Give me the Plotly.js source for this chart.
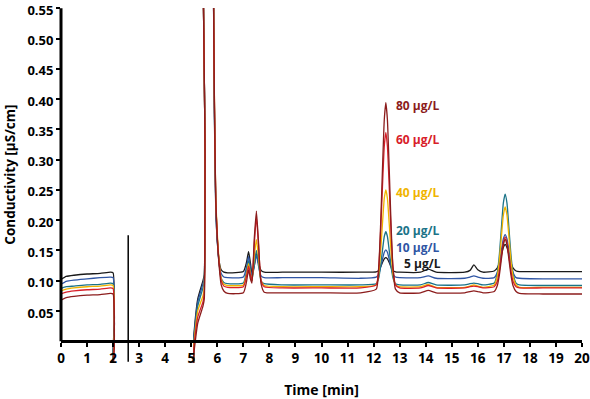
<!DOCTYPE html>
<html>
<head>
<meta charset="utf-8">
<script src="https://cdn.plot.ly/plotly-3.0.1.min.js"></script>
<style>html,body{margin:0;padding:0;background:#fff;}#chart{width:590px;height:399px;}</style>
</head>
<body>
<div id="chart"></div>
<script>
// Time axis (min), shared by all series
const time = [0, 0.2, 0.5, 1.0, 1.5, 1.9, 2.0, 2.05, 2.1,
  5.0, 5.1, 5.25, 5.45, 5.5, 5.53, 5.56, 5.82, 5.85,
  5.89, 5.94, 6.0, 6.08, 6.15, 6.25, 6.4,
  7.0, 7.12, 7.2, 7.27, 7.33, 7.42, 7.5, 7.58, 7.68, 7.8,
  8.5, 10, 11.5,
  12.1, 12.2, 12.27, 12.34, 12.41, 12.47, 12.53, 12.6, 12.67, 12.74, 12.84,
  13.0,
  13.8, 14.1, 14.4,
  15.5, 15.7, 15.85, 16.0, 16.2,
  16.63, 16.75, 16.83, 16.91, 16.98, 17.05, 17.12, 17.19, 17.27, 17.35, 17.47,
  17.6, 18.5, 20];

// Conductivity (µS/cm) per standard
const c5 = [0.102, 0.107, 0.109, 0.111, 0.112, 0.114, 0.113, 0.04, -0.1,
  -0.06, 0.01, 0.07, 0.100, 0.11, 0.30, 1.2, 1.2, 0.6,
  0.37, 0.22, 0.165, 0.13, 0.118, 0.114, 0.113,
  0.115, 0.13, 0.148, 0.13, 0.112, 0.125, 0.145, 0.13, 0.117, 0.114,
  0.114, 0.114, 0.114,
  0.1145, 0.117, 0.123, 0.130, 0.136, 0.138, 0.136, 0.130, 0.123, 0.117, 0.1145,
  0.114,
  0.114, 0.119, 0.114,
  0.114, 0.117, 0.126, 0.118, 0.114,
  0.116, 0.121, 0.130, 0.144, 0.155, 0.160, 0.155, 0.144, 0.130, 0.121, 0.116,
  0.115, 0.115, 0.115];
const c10 = [0.094, 0.099, 0.101, 0.103, 0.105, 0.106, 0.105, 0.03, -0.1,
  -0.06, 0.005, 0.065, 0.095, 0.105, 0.30, 1.2, 1.2, 0.6,
  0.38, 0.225, 0.165, 0.125, 0.112, 0.106, 0.105,
  0.106, 0.122, 0.140, 0.122, 0.105, 0.125, 0.142, 0.125, 0.108, 0.105,
  0.105, 0.105, 0.104,
  0.106, 0.111, 0.122, 0.135, 0.147, 0.151, 0.147, 0.135, 0.122, 0.111, 0.106,
  0.105,
  0.105, 0.108, 0.104,
  0.104, 0.106, 0.108, 0.106, 0.104,
  0.105, 0.114, 0.128, 0.151, 0.169, 0.176, 0.169, 0.151, 0.128, 0.114, 0.105,
  0.104, 0.103, 0.103];
const c20 = [0.087, 0.090, 0.091, 0.093, 0.094, 0.096, 0.095, 0.03, -0.1,
  -0.06, 0.0, 0.058, 0.088, 0.1, 0.30, 1.2, 1.2, 0.6,
  0.385, 0.23, 0.17, 0.125, 0.104, 0.097, 0.095,
  0.096, 0.115, 0.133, 0.115, 0.100, 0.128, 0.150, 0.13, 0.100, 0.095,
  0.093, 0.093, 0.093,
  0.095, 0.105, 0.125, 0.150, 0.173, 0.181, 0.173, 0.150, 0.125, 0.105, 0.095,
  0.093,
  0.093, 0.097, 0.093,
  0.093, 0.095, 0.096, 0.095, 0.093,
  0.096, 0.113, 0.144, 0.190, 0.228, 0.243, 0.228, 0.190, 0.144, 0.113, 0.096,
  0.093, 0.092, 0.092];
const c40 = [0.083, 0.086, 0.088, 0.090, 0.091, 0.093, 0.092, 0.02, -0.1,
  -0.06, -0.005, 0.05, 0.075, 0.09, 0.30, 1.2, 1.2, 0.6,
  0.40, 0.24, 0.178, 0.128, 0.103, 0.094, 0.092,
  0.093, 0.110, 0.128, 0.112, 0.100, 0.140, 0.168, 0.140, 0.100, 0.092,
  0.090, 0.090, 0.090,
  0.093, 0.112, 0.148, 0.194, 0.236, 0.250, 0.236, 0.194, 0.148, 0.112, 0.093,
  0.090,
  0.090, 0.094, 0.089,
  0.089, 0.091, 0.093, 0.091, 0.089,
  0.093, 0.108, 0.135, 0.175, 0.208, 0.222, 0.208, 0.175, 0.135, 0.108, 0.093,
  0.089, 0.089, 0.089];
const c60 = [0.078, 0.081, 0.083, 0.085, 0.086, 0.088, 0.087, 0.01, -0.1,
  -0.06, -0.01, 0.04, 0.065, 0.08, 0.30, 1.2, 1.2, 0.6,
  0.395, 0.235, 0.172, 0.125, 0.100, 0.091, 0.089,
  0.090, 0.107, 0.124, 0.110, 0.100, 0.160, 0.205, 0.160, 0.100, 0.090,
  0.088, 0.088, 0.088,
  0.093, 0.124, 0.181, 0.255, 0.322, 0.345, 0.322, 0.255, 0.181, 0.124, 0.093,
  0.088,
  0.088, 0.092, 0.088,
  0.088, 0.090, 0.091, 0.090, 0.088,
  0.090, 0.099, 0.117, 0.142, 0.163, 0.172, 0.163, 0.142, 0.117, 0.099, 0.090,
  0.088, 0.088, 0.088];
const c80 = [0.068, 0.072, 0.074, 0.076, 0.077, 0.079, 0.078, 0.0, -0.1,
  -0.06, -0.02, 0.03, 0.058, 0.07, 0.30, 1.2, 1.2, 0.6,
  0.395, 0.235, 0.170, 0.120, 0.093, 0.083, 0.079,
  0.080, 0.098, 0.118, 0.103, 0.096, 0.170, 0.215, 0.165, 0.095, 0.081,
  0.080, 0.080, 0.080,
  0.086, 0.124, 0.193, 0.284, 0.366, 0.394, 0.366, 0.284, 0.193, 0.124, 0.086,
  0.080,
  0.080, 0.084, 0.080,
  0.080, 0.082, 0.083, 0.082, 0.080,
  0.082, 0.092, 0.110, 0.137, 0.159, 0.168, 0.159, 0.137, 0.110, 0.092, 0.082,
  0.079, 0.078, 0.078];

const seriesNames = ['5 µg/L', '10 µg/L', '20 µg/L', '40 µg/L', '60 µg/L', '80 µg/L'];
const seriesValues = [c5, c10, c20, c40, c60, c80];
const seriesColors = ['#1a1a1a', '#2f55a4', '#1b7388', '#f0b400', '#d8202a', '#8c1c1c'];
// label anchor positions (time, conductivity)
const labelTime = [13.13, 12.82, 12.82, 12.82, 12.82, 12.82];
const labelValue = [0.128, 0.155, 0.183, 0.245, 0.333, 0.389];

const xTicks = [0,1,2,3,4,5,6,7,8,9,10,11,12,13,14,15,16,17,18,19,20];
const yTicks = [0.05,0.10,0.15,0.20,0.25,0.30,0.35,0.40,0.45,0.50,0.55];
const yTickText = ['0.05','0.10','0.15','0.20','0.25','0.30','0.35','0.40','0.45','0.50','0.55'];
const breakTime = 2.58;

const FONT = 'Open Sans, Noto Sans, sans-serif';
const traces = seriesValues.map((v, i) => ({
  x: time, y: v, type: 'scatter', mode: 'lines', name: seriesNames[i],
  line: {color: seriesColors[i], width: 1.3, shape: 'spline', smoothing: 0.5},
  hoverinfo: 'skip'
}));

const yMin = -0.036, yMax = 0.5505;
const annotations = seriesNames.map((n, i) => ({
  x: labelTime[i], y: labelValue[i], xref: 'x', yref: 'y', text: n,
  showarrow: false, xanchor: 'left', yanchor: 'middle', borderpad: 0,
  font: {family: FONT, size: 12, color: seriesColors[i], weight: 700}
}));
annotations.push({
  x: -0.098, xref: 'paper', y: 0.275, yref: 'y', text: 'Conductivity [µS/cm]',
  textangle: -90, showarrow: false, xanchor: 'center', yanchor: 'middle',
  font: {family: FONT, size: 13.5, color: '#000', weight: 700}
});

const layout = {
  width: 590, height: 399,
  margin: {l: 61, r: 8, t: 8, b: 36},
  paper_bgcolor: '#fff', plot_bgcolor: '#fff',
  showlegend: false,
  font: {family: FONT, size: 13, color: '#000', weight: 700},
  xaxis: {
    range: [0, 20], tickvals: xTicks, ticktext: xTicks.map(String),
    anchor: 'free', position: (0 - yMin) / (yMax - yMin),
    showline: true, linecolor: '#000', linewidth: 3,
    ticks: 'outside', ticklen: 4, tickwidth: 2, tickcolor: '#000',
    showgrid: false, zeroline: false, automargin: false,
    tickfont: {family: FONT, size: 13.5, color: '#000', weight: 700},
    title: {text: 'Time [min]', standoff: 18, font: {family: FONT, size: 14, color: '#000', weight: 700}}
  },
  yaxis: {
    range: [yMin, yMax], tickvals: yTicks, ticktext: yTickText,
    showline: false, ticks: 'outside', ticklen: 4, tickwidth: 2, tickcolor: '#000',
    showgrid: false, zeroline: false, automargin: false, ticklabeloverflow: 'allow',
    ticklabelshift: 2,
    tickfont: {family: FONT, size: 13, color: '#000', weight: 700}
  },
  shapes: [
    {type: 'line', xref: 'paper', yref: 'y', x0: 0, x1: 0, y0: 0, y1: 0.55,
     line: {color: '#000', width: 3}},
    {type: 'line', xref: 'x', yref: 'y', x0: breakTime, x1: breakTime, y0: -0.034, y1: 0.175,
     line: {color: '#000', width: 1.5}}
  ],
  annotations: annotations
};

Plotly.newPlot('chart', traces, layout, {staticPlot: true, displayModeBar: false});
</script>
</body>
</html>
